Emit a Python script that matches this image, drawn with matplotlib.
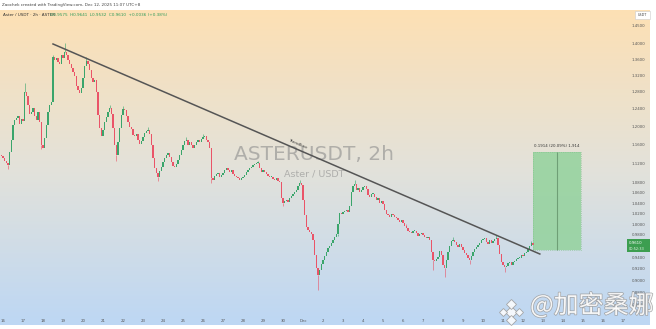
import numpy as np
import matplotlib
matplotlib.use('Agg')
import matplotlib.pyplot as plt
from matplotlib.colors import LinearSegmentedColormap
from matplotlib.patches import Rectangle
from matplotlib.ticker import NullLocator
from matplotlib import patheffects as pe

# ASTER/USDT 2h closes, first candle = Nov 15 20:00
nov15 = [1.138, 1.136]
nov16 = [1.131, 1.125, 1.121, 1.116, 1.144, 1.170, 1.203, 1.215, 1.219, 1.224, 1.205, 1.217]
nov17 = [1.212, 1.280, 1.270, 1.249, 1.228, 1.233, 1.242, 1.224, 1.215, 1.233, 1.210, 1.159]
nov18 = [1.153, 1.175, 1.203, 1.233, 1.249, 1.256, 1.366, 1.359, 1.364, 1.354, 1.349, 1.371]
nov19 = [1.364, 1.379, 1.371, 1.359, 1.349, 1.339, 1.329, 1.319, 1.294, 1.285, 1.278, 1.290]
nov20 = [1.314, 1.344, 1.356, 1.349, 1.334, 1.314, 1.304, 1.309, 1.280, 1.226, 1.197, 1.179]
nov21 = [1.192, 1.210, 1.221, 1.233, 1.242, 1.228, 1.197, 1.159, 1.138, 1.166, 1.197, 1.226]
nov22 = [1.240, 1.238, 1.224, 1.210, 1.199, 1.194, 1.181, 1.179, 1.183, 1.170, 1.161, 1.168]
nov23 = [1.177, 1.185, 1.190, 1.192, 1.183, 1.159, 1.131, 1.110, 1.100, 1.092, 1.104, 1.113]
nov24 = [1.123, 1.131, 1.138, 1.142, 1.133, 1.123, 1.115, 1.113, 1.119, 1.127, 1.138, 1.148]
nov25 = [1.159, 1.168, 1.170, 1.159, 1.166, 1.159, 1.153, 1.159, 1.166, 1.170, 1.166, 1.172]
nov26 = [1.177, 1.179, 1.170, 1.166, 1.153, 1.090, 1.086, 1.094, 1.098, 1.100, 1.092, 1.096]
nov27 = [1.100, 1.106, 1.110, 1.106, 1.102, 1.106, 1.098, 1.094, 1.092, 1.090, 1.086, 1.090]
nov28 = [1.092, 1.096, 1.102, 1.106, 1.110, 1.113, 1.117, 1.119, 1.121, 1.121, 1.110, 1.102]
nov29 = [1.106, 1.102, 1.098, 1.094, 1.092, 1.092, 1.088, 1.086, 1.090, 1.084, 1.082, 1.050]
nov30 = [1.040, 1.044, 1.046, 1.042, 1.050, 1.054, 1.058, 1.062, 1.066, 1.074, 1.080, 1.076]
dec01 = [1.046, 1.017, 0.994, 0.989, 0.985, 0.981, 0.970, 0.944, 0.921, 0.909, 0.918, 0.928]
dec02 = [0.935, 0.942, 0.949, 0.956, 0.959, 0.965, 0.970, 0.976, 0.981, 1.000, 1.021, 1.019]
dec03 = [1.023, 1.025, 1.027, 1.023, 1.034, 1.062, 1.074, 1.078, 1.066, 1.070, 1.062, 1.066]
dec04 = [1.072, 1.074, 1.068, 1.056, 1.052, 1.058, 1.058, 1.052, 1.046, 1.050, 1.040, 1.044]
dec05 = [1.038, 1.027, 1.019, 1.017, 1.013, 1.019, 1.017, 1.013, 1.011, 1.008, 1.004, 1.008]
dec06 = [1.002, 0.996, 0.993, 0.987, 0.985, 0.983, 0.987, 0.987, 0.983, 0.978, 0.981, 0.983]
dec07 = [0.979, 0.976, 0.974, 0.976, 0.970, 0.949, 0.935, 0.933, 0.937, 0.940, 0.951, 0.944]
dec08 = [0.926, 0.921, 0.935, 0.949, 0.959, 0.968, 0.970, 0.967, 0.961, 0.958, 0.963, 0.958]
dec09 = [0.953, 0.947, 0.944, 0.938, 0.935, 0.942, 0.949, 0.954, 0.958, 0.961, 0.965, 0.970]
dec10 = [0.972, 0.974, 0.967, 0.963, 0.970, 0.965, 0.968, 0.972, 0.974, 0.961, 0.946, 0.931]
dec11 = [0.926, 0.923, 0.924, 0.930, 0.931, 0.926, 0.931, 0.933, 0.937, 0.938, 0.938, 0.944]
dec12 = [0.942, 0.947, 0.949, 0.954, 0.959, 0.965, 0.961]
first_open = 1.140

# visible wicks (candle index -> price)
wick_high = {15: 1.302, 32: 1.372, 39: 1.402, 52: 1.366, 66: 1.250, 74: 1.246,
             89: 1.198, 112: 1.176, 122: 1.184, 155: 1.126, 180: 1.086, 213: 1.086,
             244: 1.000, 272: 0.976, 298: 0.980, 319: 0.968}
wick_low = {5: 1.108, 25: 1.150, 70: 1.124, 95: 1.084, 127: 1.080, 170: 1.034,
            191: 0.884, 203: 0.978, 260: 0.918, 267: 0.906, 282: 0.928, 303: 0.914}

price_ticks = [1.45, 1.40, 1.36, 1.32, 1.28, 1.24, 1.20, 1.16, 1.12, 1.08, 1.06,
               1.04, 1.02, 1.00, 0.98, 0.94, 0.92, 0.90, 0.88, 0.86]
day_labels = ['16', '17', '18', '19', '20', '21', '22', '23', '24', '25', '26', '27',
              '28', '29', '30', 'Dec', '2', '3', '4', '5', '6', '7', '8', '9', '10',
              '11', '12', '13', '14', '15', '16', '17']

trend_idx = [32.0, 324.1]
trend_price = [1.400, 0.9455]
entry_price = 0.953
target_price = 1.144
box_idx = [320.0, 348.8]

closes = (nov15 + nov16 + nov17 + nov18 + nov19 + nov20 + nov21 + nov22 + nov23 + nov24
          + nov25 + nov26 + nov27 + nov28 + nov29 + nov30 + dec01 + dec02 + dec03 + dec04
          + dec05 + dec06 + dec07 + dec08 + dec09 + dec10 + dec11 + dec12)
closes = np.array(closes)
opens = np.concatenate([[first_open], closes[:-1]])
idx = np.arange(len(closes))

UP = '#3aa56b'
DOWN = '#ea5468'

W, H = 656, 329
fig = plt.figure(figsize=(W / 100, H / 100), dpi=100)
fig.patch.set_facecolor('white')

# gradient background (orange -> grey -> blue)
bg = fig.add_axes([0, 4 / H, 650 / W, 315 / H])
cmap = LinearSegmentedColormap.from_list('bg', ['#bdd7f4', '#e3e2da', '#fde0b4'])
bg.imshow(np.linspace(0, 1, 256).reshape(-1, 1), aspect='auto', cmap=cmap,
          origin='lower', extent=[0, 1, 0, 1])
bg.axis('off')

ax = fig.add_axes([0, 15 / H, 626 / W, 304 / H])
ax.set_facecolor('none')
ax.set_yscale('log')

# candles
up = closes >= opens
lo = np.minimum(opens, closes)
hgt = np.abs(closes - opens)
hgt = np.maximum(hgt, 0.0015)
ax.bar(idx[up], hgt[up], bottom=lo[up], width=0.8, color=UP, linewidth=0, zorder=3)
ax.bar(idx[~up], hgt[~up], bottom=lo[~up], width=0.8, color=DOWN, linewidth=0, zorder=3)
for i, p in wick_high.items():
    c = UP if up[i] else DOWN
    ax.vlines(i, max(opens[i], closes[i]), p, color=c, lw=0.6, alpha=0.7, zorder=2)
for i, p in wick_low.items():
    c = UP if up[i] else DOWN
    ax.vlines(i, p, min(opens[i], closes[i]), color=c, lw=0.6, alpha=0.7, zorder=2)

# trendline
ax.plot(trend_idx, trend_price, color='#555555', lw=1.1, zorder=4)
ax.text(179, 1.161, 'Trendline', fontsize=3.2, color='#333333', rotation=-23,
        ha='center', va='center', zorder=5)

# long position box
ax.fill_between(box_idx, entry_price, target_price, color='#93d29c', alpha=0.85,
                lw=0, zorder=2)
ax.add_patch(Rectangle((box_idx[0], entry_price), box_idx[1] - box_idx[0],
                       target_price - entry_price, fill=False, ec='#7fbf88',
                       lw=0.5, ls=':', zorder=3))
mid = (box_idx[0] + box_idx[1]) / 2
ax.vlines(mid, entry_price, target_price, color='#6f9f76', lw=0.8, zorder=3)
ax.text(mid, target_price * 1.007, '0.1914 (20.09%) 1,914', fontsize=2.8,
        color='#333333', ha='center', va='bottom', zorder=5)

# watermark
ax.text(188.5, 1.138, 'ASTERUSDT, 2h', fontsize=14.5, color='#8c8c8c', alpha=0.6,
        ha='center', va='center', zorder=1)
ax.text(188.5, 1.097, 'Aster / USDT', fontsize=6.8, color='#8c8c8c', alpha=0.6,
        ha='center', va='center', zorder=1)

ax.set_xlim(0.2, 375.8)
ax.set_ylim(0.8452, 1.4918)
ax.yaxis.set_minor_locator(NullLocator())
ax.set_yticks(price_ticks)
ax.set_yticklabels(['%.4f' % p for p in price_ticks])
ax.yaxis.tick_right()
ax.set_xticks([2 + 12 * k for k in range(len(day_labels))])
ax.set_xticklabels(day_labels)
ax.tick_params(axis='both', length=0, labelsize=2.8, colors='#555555')
ax.tick_params(axis='y', pad=4.3)
ax.tick_params(axis='x', pad=3.8)
for s in ax.spines.values():
    s.set_visible(False)

# header and legend
fig.text(2 / W, 1 - 5 / H, 'Zaochek created with TradingView.com, Dec 12, 2025 11:07 UTC+8',
         fontsize=3, color='#444444', va='center')
fig.text(3 / W, 1 - 15 / H, 'Aster / USDT · 2h · ASTER', fontsize=3, color='#333333',
         va='center')
fig.text(50 / W, 1 - 15 / H, 'O0.9575  H0.9641  L0.9532  C0.9610  +0.0036 (+0.38%)',
         fontsize=3, color='#2e9a5a', va='center')

# price axis extras
fig.add_artist(Rectangle((635 / W, 1 - 19 / H), 15 / W, 8 / H, transform=fig.transFigure,
                         fc='white', ec='#cccccc', lw=0.4))
fig.text(642.5 / W, 1 - 15 / H, 'USDT', fontsize=2.4, color='#444444', ha='center',
         va='center')
fig.add_artist(Rectangle((627 / W, 1 - 252 / H), 23 / W, 13 / H, transform=fig.transFigure,
                         fc='#3c9e50', ec='none'))
fig.text(629 / W, 1 - 243 / H, '0.9610', fontsize=2.8, color='white', va='center')
fig.text(629 / W, 1 - 248.5 / H, '00:52:33', fontsize=2.5, color='#e8f5e8', va='center')

# @加密桑娜 watermark with diamond logo
stroke = [pe.withStroke(linewidth=1.0, foreground='#9a9a9a')]
fig.text(530 / W, 1 - 306 / H, '@加密桑娜', fontsize=18, color='white', alpha=0.85,
         family=['Noto Sans CJK SC', 'DejaVu Sans'], va='center', path_effects=stroke)
cx, cy = 511, 312
for dx, dy, s in [(0, 0, 6), (-8, 0, 4), (8, 0, 4), (0, -8, 5), (0, 8, 5)]:
    fig.add_artist(plt.Line2D([(cx + dx) / W], [1 - (cy + dy) / H], marker='D',
                              markersize=s, mfc='white', mec='#9a9a9a', mew=0.6,
                              alpha=0.85, transform=fig.transFigure))

fig.savefig('out.png', dpi=100)
